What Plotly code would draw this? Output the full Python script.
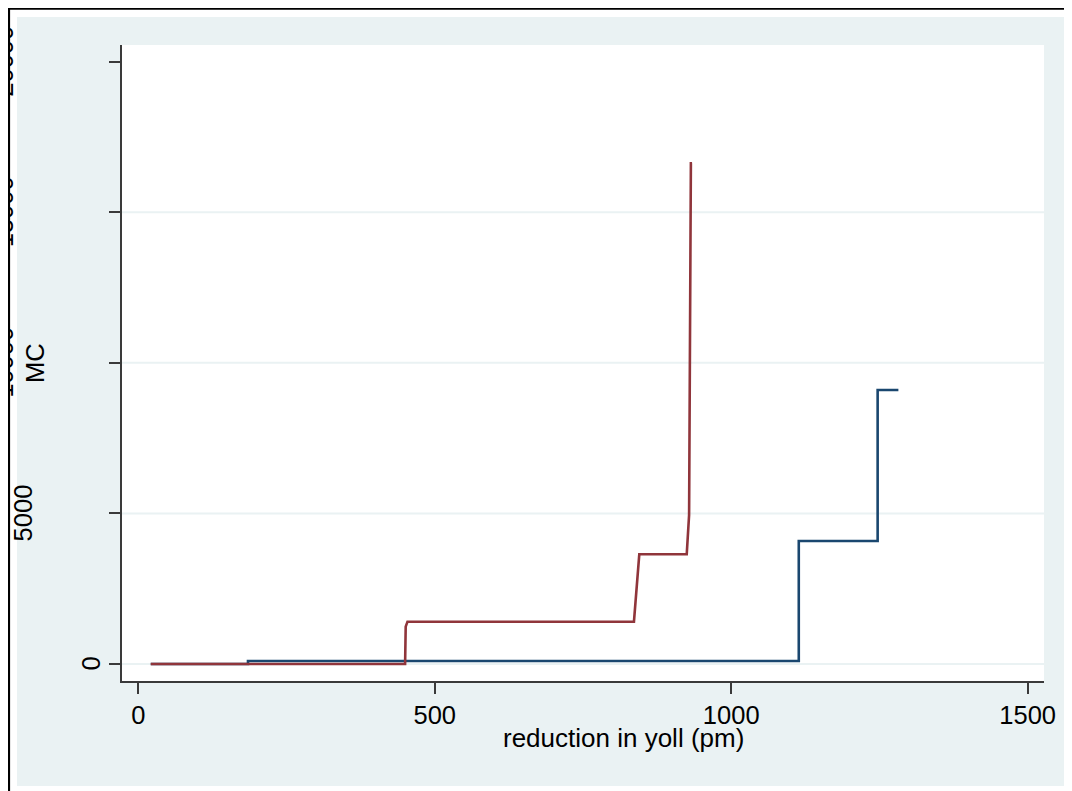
import plotly.graph_objects as go

# ---- data ----
blue_x = [21, 185, 185, 1114, 1114, 1247, 1247, 1282]
blue_y = [0, 0, 100, 100, 4084, 4084, 9098, 9098]

red_x = [21, 450, 451, 454, 836, 845, 925, 929, 932, 934]
red_y = [0, 0, 1240, 1405, 1405, 3643, 3643, 4950, 16626, 16626]

x_ticks = [0, 500, 1000, 1500]
y_ticks = [0, 5000, 10000, 15000, 20000]
y_tick_labels = ["0", "5000", "10000", "15000", "20000"]
grid_vals = [0, 5000, 10000, 15000]

x_title = "reduction in yoll (pm)"
y_title = "MC"

NAVY = "#1A476F"
MAROON = "#90353B"
BLUISH = "#EAF2F3"
AXIS = "#3a3a3a"
FONT = "Liberation Sans, Arial, sans-serif"

# page body has an 8px margin: the figure starts at (8, 8) of the window
OFF = 8
W, H = 1072 - OFF, 791 - OFF
PLOT_L, PLOT_R, PLOT_T, PLOT_B = 122, 1044, 45, 681   # window pixels
L = PLOT_L - OFF
T = PLOT_T - OFF
PW = PLOT_R - PLOT_L
PH = PLOT_B - PLOT_T
R = W - L - PW
B = H - T - PH


def px_x(px):
    return (px - PLOT_L) / PW


def px_y(py):
    return (PLOT_B - py) / PH


fig = go.Figure()
fig.add_trace(go.Scatter(x=blue_x, y=blue_y, mode="lines",
                         line=dict(color=NAVY, width=2.6), showlegend=False))
fig.add_trace(go.Scatter(x=red_x, y=red_y, mode="lines",
                         line=dict(color=MAROON, width=2.6), showlegend=False))

shapes = [
    # outer frame (only top and left edges are inside the picture)
    dict(type="rect", xref="paper", yref="paper",
         x0=px_x(9), x1=px_x(1200), y0=px_y(900), y1=px_y(8.6),
         line=dict(color="black", width=2.2), fillcolor="white", layer="below"),
    # graph region
    dict(type="rect", xref="paper", yref="paper",
         x0=px_x(17), x1=px_x(1200), y0=px_y(786), y1=px_y(17),
         line=dict(width=0), fillcolor=BLUISH, layer="below"),
    # plot region
    dict(type="rect", xref="paper", yref="paper",
         x0=0, x1=1, y0=0, y1=1,
         line=dict(width=0), fillcolor="white", layer="below"),
]
for g in grid_vals:
    shapes.append(dict(type="line", xref="paper", yref="y", x0=0, x1=1, y0=g, y1=g,
                       line=dict(color=BLUISH, width=2), layer="below"))

annotations = []
label_px = {"0": 90.5, "5000": 23}
for v, lab in zip(y_ticks, y_tick_labels):
    cx = label_px.get(lab, 4)
    annotations.append(dict(text=lab, x=px_x(cx), y=v, xref="paper", yref="y",
                            xanchor="center", yanchor="middle", textangle=-90,
                            showarrow=False, font=dict(family=FONT, size=25.5, color="black")))
annotations.append(dict(text=y_title, x=px_x(35), y=0.5, xref="paper", yref="paper",
                        xanchor="center", yanchor="middle", textangle=-90,
                        showarrow=False, font=dict(family=FONT, size=25.5, color="black")))
annotations.append(dict(text=x_title, x=px_x(623.5), y=px_y(738), xref="paper", yref="paper",
                        xanchor="center", yanchor="middle",
                        showarrow=False, font=dict(family=FONT, size=26, color="black")))

fig.update_layout(
    width=W, height=H,
    margin=dict(l=L, r=R, t=T, b=B, pad=0),
    paper_bgcolor="white",
    plot_bgcolor="rgba(0,0,0,0)",
    shapes=shapes,
    annotations=annotations,
    font=dict(family=FONT, color="black"),
)
fig.update_xaxes(range=[-27.5, 1527.6], tickvals=x_ticks, ticks="outside", ticklen=11,
                 tickwidth=1.5, tickcolor=AXIS, showline=True, linecolor=AXIS, linewidth=1.5,
                 showgrid=False, zeroline=False, tickfont=dict(family=FONT, size=25.5, color="black"))
fig.update_yaxes(range=[-565, 20555], tickvals=y_ticks, ticks="outside", ticklen=11,
                 tickwidth=1.5, tickcolor=AXIS, showline=True, linecolor=AXIS, linewidth=1.5,
                 showgrid=False, zeroline=False, showticklabels=False)

fig.write_html("out.html")
